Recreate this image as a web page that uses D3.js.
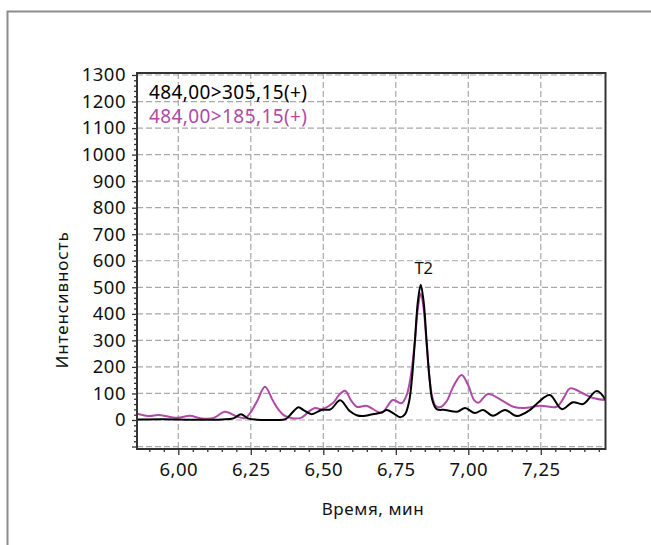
<!DOCTYPE html>
<html>
<head>
<meta charset="utf-8">
<script src="https://cdn.jsdelivr.net/npm/d3@7"></script>
<style>
  html, body { margin: 0; padding: 0; background: #fff; }
  svg { display: block; font-family: "Noto Sans", "Open Sans", sans-serif; }
</style>
</head>
<body>
<svg id="chart" width="651" height="545"></svg>
<script>
// Retention times (min) and intensities for transition 484,00>305,15(+)
const timeA = [5.858, 5.95, 6.05, 6.15, 6.19, 6.216, 6.24, 6.27, 6.33, 6.37, 6.395, 6.414, 6.435,
  6.46, 6.494, 6.525, 6.558, 6.59, 6.615, 6.638, 6.67, 6.701, 6.719, 6.742, 6.765, 6.782,
  6.796, 6.806, 6.816, 6.826, 6.836, 6.846, 6.856, 6.866, 6.876, 6.891, 6.92, 6.961, 6.989,
  7.023, 7.051, 7.085, 7.127, 7.167, 7.213, 7.24, 7.281, 7.322, 7.361, 7.396, 7.443, 7.475];
const intensityA = [2, 3, 1, 2, 6, 22, 6, 1, 0, 3, 30, 48, 35,
  22, 38, 40, 74, 35, 18, 15, 22, 28, 38, 25, 10, 22,
  70, 160, 300, 445, 510, 445, 300, 160, 75, 41, 38, 31, 45,
  26, 38, 16, 38, 15, 38, 65, 94, 41, 67, 60, 109, 73];

// Retention times (min) and intensities for transition 484,00>185,15(+)
const timeB = [5.858, 5.902, 5.93, 5.996, 6.04, 6.075, 6.12, 6.161, 6.202, 6.23, 6.247, 6.272,
  6.299, 6.325, 6.345, 6.368, 6.42, 6.454, 6.471, 6.494, 6.533, 6.555, 6.575, 6.595, 6.615,
  6.65, 6.701, 6.74, 6.77, 6.786, 6.796, 6.806, 6.816, 6.826, 6.836, 6.846, 6.856, 6.866,
  6.876, 6.886, 6.902, 6.925, 6.95, 6.977, 7.0, 7.02, 7.035, 7.068, 7.12, 7.155, 7.19,
  7.249, 7.305, 7.33, 7.351, 7.396, 7.43, 7.475];
const intensityB = [24, 15, 19, 8, 16, 7, 7, 31, 13, 7, 25, 72,
  125, 75, 40, 15, 7, 35, 45, 41, 64, 95, 110, 75, 50,
  53, 28, 75, 63, 90, 130, 200, 300, 420, 477, 420, 290, 160,
  85, 55, 48, 70, 130, 170, 130, 75, 65, 98, 71, 50, 45,
  54, 50, 85, 119, 100, 83, 75];

const seriesNames = ["484,00>305,15(+)", "484,00>185,15(+)"];
const seriesColors = ["#000000", "#b04aa6"];

const xTicks = [6.00, 6.25, 6.50, 6.75, 7.00, 7.25];
const yTicks = [0, 100, 200, 300, 400, 500, 600, 700, 800, 900, 1000, 1100, 1200, 1300];
const yGrid = [-100].concat(yTicks);

const peakLabel = { text: "T2", time: 6.836, value: 510 };

const xTitle = "Время, мин";
const yTitle = "Интенсивность";

// ---- layout ----
const svg = d3.select("#chart");
const plot = { left: 137, right: 605.5, top: 73, bottom: 449 };

const x = d3.scaleLinear().domain([5.8576, 7.4731]).range([plot.left, plot.right]);
const y = d3.scaleLinear().domain([-109.3, 1307.5]).range([plot.bottom, plot.top]);

// outer panel frame
svg.append("rect")
  .attr("x", 7.5).attr("y", 11.5).attr("width", 700).attr("height", 600)
  .attr("fill", "none").attr("stroke", "#8c8c8c").attr("stroke-width", 2);

// grid
const grid = svg.append("g").attr("stroke", "#a8a8a8").attr("stroke-width", 1.2)
  .attr("stroke-dasharray", "6,3");
grid.selectAll("line.gx").data(xTicks).join("line")
  .attr("x1", d => x(d)).attr("x2", d => x(d))
  .attr("y1", plot.top).attr("y2", plot.bottom);
grid.selectAll("line.gy").data(yGrid).join("line")
  .attr("y1", d => y(d)).attr("y2", d => y(d))
  .attr("x1", plot.left).attr("x2", plot.right);

// traces
svg.append("clipPath").attr("id", "clip").append("rect")
  .attr("x", plot.left).attr("y", plot.top)
  .attr("width", plot.right - plot.left).attr("height", plot.bottom - plot.top);

const line = d3.line().x(d => x(d[0])).y(d => y(d[1])).curve(d3.curveCatmullRom.alpha(0.5));
const traces = [
  d3.zip(timeB, intensityB),
  d3.zip(timeA, intensityA)
];
const traceColors = [seriesColors[1], seriesColors[0]];
svg.append("g").attr("clip-path", "url(#clip)")
  .selectAll("path").data(traces).join("path")
  .attr("d", line)
  .attr("fill", "none")
  .attr("stroke", (d, i) => traceColors[i])
  .attr("stroke-width", 2)
  .attr("stroke-linejoin", "round");

// axes
const xMinor = d3.range(5.90, 7.47, 0.05).filter(v => !xTicks.some(t => Math.abs(t - v) < 1e-6));
const yMinor = d3.range(-100, 1307, 20).filter(v => v % 100 !== 0);

const axisColor = "#333";
svg.append("g").attr("transform", `translate(0,${plot.bottom})`)
  .call(d3.axisBottom(x).tickValues(xTicks).tickSize(6).tickPadding(8)
    .tickFormat(d => d3.format(".2f")(d).replace(".", ",")));
svg.append("g").attr("transform", `translate(0,${plot.bottom})`)
  .call(d3.axisBottom(x).tickValues(xMinor).tickSize(3).tickFormat(""));

svg.append("g").attr("transform", `translate(${plot.left},0)`)
  .call(d3.axisLeft(y).tickValues([-100].concat(yTicks)).tickSize(5).tickPadding(6)
    .tickFormat(d => d < 0 ? "" : d));
svg.append("g").attr("transform", `translate(${plot.left},0)`)
  .call(d3.axisLeft(y).tickValues(yMinor).tickSize(3).tickFormat(""));

svg.selectAll(".tick line").attr("stroke", axisColor).attr("stroke-width", 1.3);
svg.selectAll(".domain").remove();
svg.selectAll(".tick text").attr("font-size", 18.5).attr("fill", "#111")
  .attr("letter-spacing", "0.5px")
  .attr("font-family", "'Noto Sans', sans-serif");

// plot border
svg.append("rect")
  .attr("x", plot.left).attr("y", plot.top)
  .attr("width", plot.right - plot.left).attr("height", plot.bottom - plot.top)
  .attr("fill", "none").attr("stroke", axisColor).attr("stroke-width", 2);

// legend
svg.append("g").selectAll("text").data(seriesNames).join("text")
  .attr("x", 149).attr("y", (d, i) => 99 + i * 24)
  .attr("font-size", 19)
  .attr("letter-spacing", "0.4px")
  .attr("fill", (d, i) => seriesColors[i])
  .text(d => d);

// peak label
svg.append("text")
  .attr("x", x(peakLabel.time) + 3).attr("y", y(peakLabel.value) - 11)
  .attr("text-anchor", "middle").attr("font-size", 16.5).attr("fill", "#111")
  .text(peakLabel.text);

// axis titles
svg.append("text")
  .attr("x", 373).attr("y", 515)
  .attr("text-anchor", "middle").attr("font-size", 17).attr("fill", "#111")
  .attr("letter-spacing", "0.6px")
  .text(xTitle);
svg.append("text")
  .attr("transform", "translate(68,300) rotate(-90)")
  .attr("text-anchor", "middle").attr("font-size", 17).attr("fill", "#111")
  .attr("letter-spacing", "0.9px")
  .text(yTitle);
</script>
</body>
</html>
